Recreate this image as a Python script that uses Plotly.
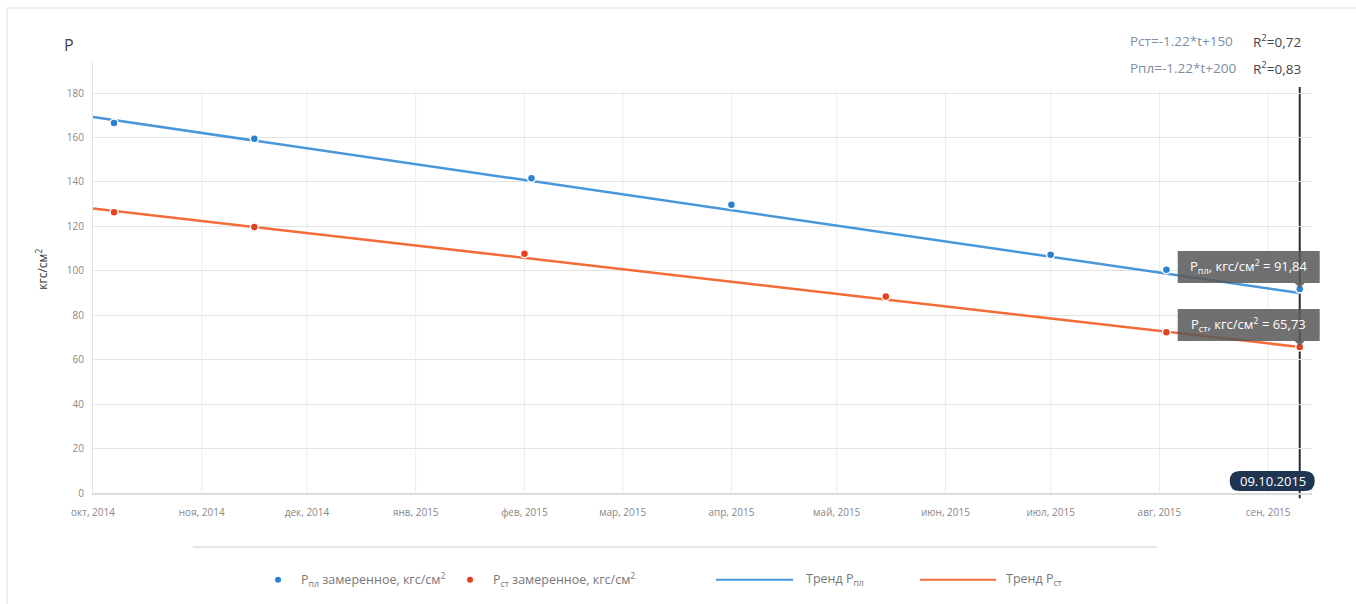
import pandas as pd
import plotly.graph_objects as go

# Measured pressures, kgf/cm²
pl_dates = ["2014-10-07", "2014-11-16", "2015-02-03", "2015-04-01",
            "2015-07-01", "2015-08-03", "2015-09-10"]
pl_values = [166.5, 159.4, 141.7, 129.7, 107.2, 100.5, 91.84]

st_dates = ["2014-10-07", "2014-11-16", "2015-02-01", "2015-05-15",
            "2015-08-03", "2015-09-10"]
st_values = [126.4, 119.7, 107.7, 88.5, 72.4, 65.73]

# Trend lines (end points)
trend_dates = ["2014-10-01", "2015-09-10"]
trend_pl = [169.2, 90.0]
trend_st = [128.1, 65.7]

# Axis ticks
tick_dates = ["2014-10-01", "2014-11-01", "2014-12-01", "2015-01-01",
              "2015-02-01", "2015-03-01", "2015-04-01", "2015-05-01",
              "2015-06-01", "2015-07-01", "2015-08-01", "2015-09-01"]
tick_text = ["окт, 2014", "ноя, 2014", "дек, 2014", "янв, 2015", "фев, 2015",
             "мар, 2015", "апр, 2015", "май, 2015", "июн, 2015", "июл, 2015",
             "авг, 2015", "сен, 2015"]
y_ticks = [0, 20, 40, 60, 80, 100, 120, 140, 160, 180]

x_range = ["2014-10-01", "2015-09-13 12:00"]
y_range = [0, 194]

equations = [("Рст=-1.22*t+150", "R<sup>2</sup>=0,72"),
             ("Рпл=-1.22*t+200", "R<sup>2</sup>=0,83")]

BLUE_DOT = "#2b82d3"
BLUE_LINE = "#4797da"
RED_DOT = "#e2431d"
RED_LINE = "#f36b36"
FONT = "Open Sans"

fig = go.Figure()
fig.add_trace(go.Scatter(x=trend_dates, y=trend_pl, mode="lines",
                         line=dict(color=BLUE_LINE, width=2.5), hoverinfo="skip"))
fig.add_trace(go.Scatter(x=trend_dates, y=trend_st, mode="lines",
                         line=dict(color=RED_LINE, width=2.5), hoverinfo="skip"))
fig.add_trace(go.Scatter(x=pl_dates, y=pl_values, mode="markers",
                         marker=dict(color=BLUE_DOT, size=8,
                                     line=dict(color="white", width=1.5))))
fig.add_trace(go.Scatter(x=st_dates, y=st_values, mode="markers",
                         marker=dict(color=RED_DOT, size=8,
                                     line=dict(color="white", width=1.5))))

# Vertical grid lines stop at the top gridline
for d in tick_dates[1:]:
    fig.add_shape(type="line", xref="x", yref="y", x0=d, x1=d, y0=0, y1=181,
                  line=dict(color="#ececec", width=1), layer="below")

x0 = pd.Timestamp(x_range[0])
x1 = pd.Timestamp(x_range[1])


def xfrac(d):
    return (pd.Timestamp(d) - x0) / (x1 - x0)


def yfrac(v):
    return (v - y_range[0]) / (y_range[1] - y_range[0])


last_date = pl_dates[-1]
lx = xfrac(last_date)

# Crosshair on the last measurement
fig.add_shape(type="line", xref="paper", yref="paper", x0=lx, x1=lx,
              y0=-0.012, y1=yfrac(182.8),
              line=dict(color="#262b35", width=2), layer="between")

# Value callouts
box_path = ("M -122,6 L -5,6 L 0,1 L 5,6 L 20,6 L 20,38 L -122,38 Z")
for val, sub in ((pl_values[-1], "пл"), (st_values[-1], "ст")):
    fig.add_shape(type="path", xref="paper", yref="paper",
                  xsizemode="pixel", ysizemode="pixel",
                  xanchor=lx, yanchor=yfrac(val), path=box_path,
                  fillcolor="rgba(88,88,88,0.86)", line=dict(width=0),
                  layer="above")
    fig.add_annotation(xref="paper", yref="paper", x=lx, y=yfrac(val),
                       xshift=-51, yshift=22, showarrow=False,
                       xanchor="center", yanchor="middle",
                       text=f"Р<sub>{sub}</sub>, кгс/см<sup>2</sup> = "
                            f"{val:.2f}".replace(".", ","),
                       font=dict(family=FONT, size=13, color="white"))

# Date badge under the crosshair
badge = ("M -60,2 L 5,2 Q 15,2 15,12 Q 15,22 5,22 L -60,22 "
         "Q -70,22 -70,12 Q -70,2 -60,2 Z")
fig.add_shape(type="path", xref="paper", yref="paper",
              xsizemode="pixel", ysizemode="pixel", xanchor=lx, yanchor=0,
              path=badge, fillcolor="#1f3552", line=dict(width=0), layer="above")
fig.add_annotation(xref="paper", yref="paper", x=lx, y=0, xshift=-27,
                   yshift=12, showarrow=False, xanchor="center",
                   yanchor="middle",
                   text=pd.Timestamp(last_date).strftime("%m.%d.%Y"),
                   font=dict(family=FONT, size=13, color="white"))

# Axis captions
fig.add_annotation(xref="paper", yref="paper", x=-0.02, y=1.04,
                   xanchor="center", yanchor="middle", showarrow=False,
                   text="Р", font=dict(family=FONT, size=16, color="#444"))
fig.add_annotation(xref="paper", yref="paper", x=-0.042, y=0.52,
                   xanchor="center", yanchor="middle", showarrow=False,
                   textangle=-90, text="кгс/см<sup>2</sup>",
                   font=dict(family=FONT, size=12, color="#333"))

# Regression equations
for i, (eq, r2) in enumerate(equations):
    yy = 1.049 - i * 0.063
    fig.add_annotation(xref="paper", yref="paper", x=0.849, y=yy,
                       xanchor="left", yanchor="middle", showarrow=False,
                       text=eq, font=dict(family=FONT, size=13.5, color="#7d8ea3"))
    fig.add_annotation(xref="paper", yref="paper", x=0.950, y=yy,
                       xanchor="left", yanchor="middle", showarrow=False,
                       text=r2, font=dict(family=FONT, size=13.5, color="#444"))

# Separator above the legend
fig.add_shape(type="line", xref="paper", yref="paper", x0=0.082, x1=0.873,
              y0=-0.125, y1=-0.125, line=dict(color="#e6e6e6", width=2))

# Legend
ly = -0.201
legend_items = [
    ("dot", BLUE_DOT, "Р<sub>пл</sub> замеренное, кгс/см<sup>2</sup>", 0.1518, 0.169),
    ("dot", RED_DOT, "Р<sub>ст</sub> замеренное, кгс/см<sup>2</sup>", 0.3093, 0.3265),
    ("line", BLUE_LINE, "Тренд Р<sub>пл</sub>", (0.5111, 0.5743), 0.583),
    ("line", RED_LINE, "Тренд Р<sub>ст</sub>", (0.6784, 0.7408), 0.7475),
]
for kind, color, label, pos, tx in legend_items:
    if kind == "dot":
        fig.add_shape(type="circle", xref="paper", yref="paper",
                      xsizemode="pixel", ysizemode="pixel",
                      xanchor=pos, yanchor=ly, x0=-3, x1=3, y0=-3, y1=3,
                      fillcolor=color, line=dict(width=0))
    else:
        fig.add_shape(type="line", xref="paper", yref="paper",
                      x0=pos[0], x1=pos[1], y0=ly, y1=ly,
                      line=dict(color=color, width=2))
    fig.add_annotation(xref="paper", yref="paper", x=tx, y=ly,
                       xanchor="left", yanchor="middle", showarrow=False,
                       text=label, font=dict(family=FONT, size=12.5, color="#777"))

# Outer frame
fig.add_shape(type="path", xref="paper", yref="paper",
              xsizemode="pixel", ysizemode="pixel", xanchor=0, yanchor=1,
              path="M -86,-700 L -86,54 L 1300,54",
              line=dict(color="#dddddd", width=1))

fig.update_layout(
    width=1356, height=604,
    margin=dict(l=93, r=44, t=62, b=111),
    paper_bgcolor="white", plot_bgcolor="white",
    showlegend=False,
    font=dict(family=FONT, color="#888"),
    xaxis=dict(type="date", range=x_range, tickvals=tick_dates,
               ticktext=tick_text, showgrid=False, showline=True,
               linecolor="#dcdcdc", linewidth=2, ticks="",
               ticklabelstandoff=9,
               tickfont=dict(size=10, color="#888"), zeroline=False),
    yaxis=dict(range=y_range, tickvals=y_ticks, showgrid=True,
               gridcolor="#e4e4e4", gridwidth=1, showline=True,
               linecolor="#e2e2e2", linewidth=1, ticks="",
               ticklabelstandoff=6, zeroline=False,
               tickfont=dict(size=10, color="#888")),
)

fig.write_html("out.html")
